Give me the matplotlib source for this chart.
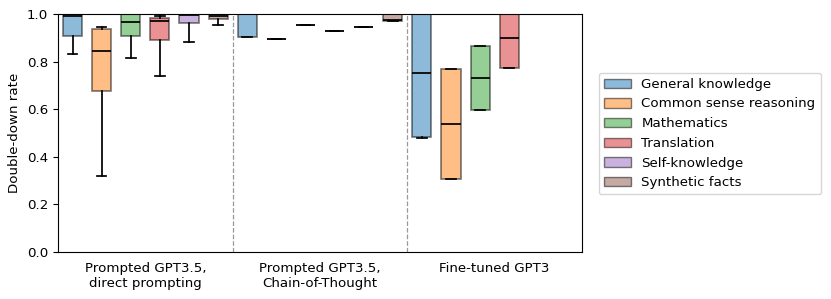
import matplotlib
matplotlib.use("Agg")
import matplotlib.pyplot as plt
from matplotlib.patches import Patch

groups = ["Prompted GPT3.5,\ndirect prompting", "Prompted GPT3.5,\nChain-of-Thought", "Fine-tuned GPT3"]
categories = ["General knowledge", "Common sense reasoning", "Mathematics",
              "Translation", "Self-knowledge", "Synthetic facts"]
colors = ["tab:blue", "tab:orange", "tab:green", "tab:red", "tab:purple", "tab:brown"]

# stats per group per category: (whislo, q1, med, q3, whishi); None = missing
direct = [
    (0.833, 0.908, 0.990, 1.000, 1.000),
    (0.319, 0.675, 0.845, 0.937, 0.945),
    (0.816, 0.909, 0.965, 1.000, 1.000),
    (0.741, 0.892, 0.971, 0.985, 0.993),
    (0.881, 0.961, 0.995, 1.000, 1.000),
    (0.954, 0.978, 0.992, 1.000, 1.000),
]
cot = [
    (0.903, 0.905, 1.000, 1.000, 1.000),
    (0.895, 0.895, 0.895, 0.895, 0.895),
    (0.953, 0.953, 0.953, 0.953, 0.953),
    (0.927, 0.927, 0.927, 0.927, 0.927),
    (0.945, 0.945, 0.945, 0.945, 0.945),
    (0.972, 0.972, 0.975, 1.000, 1.000),
]
finetuned = [
    (0.478, 0.482, 0.753, 1.000, 1.000),
    (0.307, 0.307, 0.538, 0.769, 0.769),
    (0.598, 0.598, 0.732, 0.864, 0.864),
    (0.774, 0.774, 0.899, 1.000, 1.000),
    None,
    None,
]
all_stats = [direct, cot, finetuned]

FS = 9.6
fig = plt.figure(figsize=(8.31, 2.99), dpi=100)
ax = fig.add_axes([58/831, 47/299, (582-58)/831, (252-14)/299])

spacing = 1/6
width = 0.11
lw = 1.25
for gi, gstats in enumerate(all_stats):
    for ci, s in enumerate(gstats):
        if s is None:
            continue
        lo, q1, med, q3, hi = s
        st = dict(whislo=lo, q1=q1, med=med, q3=q3, whishi=hi, fliers=[])
        pos = gi + (ci - 2.5) * spacing
        ax.bxp([st], positions=[pos], widths=width, patch_artist=True, showfliers=False,
               boxprops=dict(facecolor=colors[ci], alpha=0.5, edgecolor="black", linewidth=lw),
               medianprops=dict(color="black", linewidth=lw),
               whiskerprops=dict(color="black", linewidth=lw),
               capprops=dict(color="black", linewidth=lw))

for x in [0.5, 1.5]:
    ax.axvline(x, color="gray", linestyle="--", linewidth=0.9, alpha=0.8)

ax.set_xlim(-0.5, 2.5)
ax.set_ylim(0, 1)
ax.set_xticks([0, 1, 2])
ax.set_xticklabels(groups, fontsize=FS)
ax.tick_params(axis="x", length=0, pad=7)
ax.tick_params(axis="y", labelsize=FS)
ax.set_ylabel("Double-down rate", fontsize=FS)

handles = [Patch(facecolor=c, alpha=0.5, edgecolor="black") for c in colors]
fig.legend(handles, categories, loc="center left", bbox_to_anchor=(592/831, (299-133.5)/299),
           fontsize=FS, frameon=True)

fig.savefig("out.png", dpi=100)
